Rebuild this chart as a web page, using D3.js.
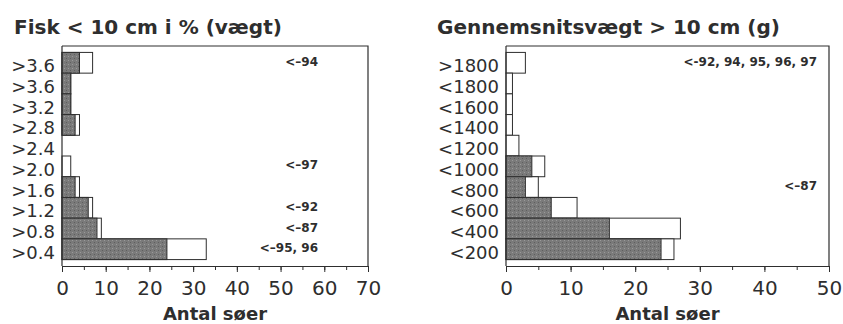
<!DOCTYPE html>
<html>
<head>
<meta charset="utf-8">
<script src="https://cdn.jsdelivr.net/npm/d3@7"></script>
<style>
  body { margin: 0; background: #fff; }
  svg { display: block; font-family: "DejaVu Sans", sans-serif; }
</style>
</head>
<body>
<svg id="chart" width="843" height="324"></svg>
<script>
// left panel: share of fish < 10 cm (weight %)
const leftCats = [">3.6", ">3.6", ">3.2", ">2.8", ">2.4", ">2.0", ">1.6", ">1.2", ">0.8", ">0.4"];
const leftDark = [4, 2, 2, 3, 0, 0, 3, 6, 8, 24];
const leftTotal = [7, 2, 2, 4, 0, 2, 4, 7, 9, 33];
const leftNoteRows = [0, 5, 7, 8, 9];
const leftNotes = ["<–94", "<–97", "<–92", "<–87", "<–95, 96"];
const leftTicks = [0, 10, 20, 30, 40, 50, 60, 70];

// right panel: mean weight of fish > 10 cm (g)
const rightCats = [">1800", "<1800", "<1600", "<1400", "<1200", "<1000", "<800", "<600", "<400", "<200"];
const rightDark = [0, 0, 0, 0, 0, 4, 3, 7, 16, 24];
const rightTotal = [3, 1, 1, 1, 2, 6, 5, 11, 27, 26];
const rightNoteRows = [0, 6];
const rightNotes = ["<-92, 94, 95, 96, 97", "<–87"];
const rightTicks = [0, 10, 20, 30, 40, 50];

const svg = d3.select('#chart');
const ink = '#2e2e2e';

function drawPanel(p) {
  const x = d3.scaleLinear().domain([0, p.ticks[p.ticks.length - 1]]).range([p.left, p.right]);
  const y = d3.scaleBand().domain(d3.range(p.cats.length)).range([p.top, p.bottom])
    .paddingInner(0).paddingOuter(0.31);

  const g = svg.append('g');

  // title
  g.append('text')
    .attr('x', p.titleX).attr('y', 34)
    .attr('font-size', 20).attr('font-weight', 'bold').attr('fill', ink)
    .text(p.title);

  // white part first (full total), then the shaded part on top
  g.selectAll('rect.total')
    .data(p.total)
    .join('rect')
    .attr('class', 'total')
    .attr('x', x(0))
    .attr('y', (_, i) => y(i))
    .attr('width', d => x(d) - x(0))
    .attr('height', y.bandwidth())
    .attr('fill', '#fff')
    .attr('stroke', ink)
    .attr('stroke-width', 1)
    .style('display', d => d > 0 ? null : 'none');

  g.selectAll('rect.dark')
    .data(p.dark)
    .join('rect')
    .attr('class', 'dark')
    .attr('x', x(0))
    .attr('y', (_, i) => y(i))
    .attr('width', d => x(d) - x(0))
    .attr('height', y.bandwidth())
    .attr('fill', 'url(#grain)')
    .attr('stroke', ink)
    .attr('stroke-width', 1)
    .style('display', d => d > 0 ? null : 'none');

  // frame (top + right)
  g.append('path')
    .attr('d', `M${p.left},${p.top}H${p.right}V${p.bottom}`)
    .attr('fill', 'none').attr('stroke', ink).attr('stroke-width', 1.2);

  // left axis line, labels
  g.append('line')
    .attr('x1', p.left).attr('x2', p.left).attr('y1', p.top).attr('y2', p.bottom)
    .attr('stroke', ink).attr('stroke-width', 1.2);

  g.selectAll('text.cat')
    .data(p.cats)
    .join('text')
    .attr('class', 'cat')
    .attr('x', p.left - 7)
    .attr('y', (_, i) => y(i) + y.bandwidth() / 2 + 3)
    .attr('dominant-baseline', 'central')
    .attr('text-anchor', 'end')
    .attr('font-size', 18).attr('fill', ink)
    .text(d => d);

  // bottom axis: minor ticks, then major ticks with labels
  const minor = d3.range(0, x.domain()[1] + 1, 5);
  g.append('g')
    .attr('transform', `translate(0,${p.bottom})`)
    .call(d3.axisBottom(x).tickValues(minor).tickSize(4).tickFormat(''))
    .call(a => a.select('.domain').remove())
    .selectAll('line').attr('stroke', ink);

  const ax = g.append('g')
    .attr('transform', `translate(0,${p.bottom})`)
    .call(d3.axisBottom(x).tickValues(p.ticks).tickSize(6).tickSizeOuter(0).tickPadding(9));
  ax.select('.domain').attr('stroke', ink).attr('stroke-width', 1.2);
  ax.selectAll('line').attr('stroke', ink);
  ax.selectAll('text')
    .attr('font-family', '"DejaVu Sans", sans-serif')
    .attr('font-size', 20).attr('fill', ink);

  g.append('text')
    .attr('x', (p.left + p.right) / 2).attr('y', 320)
    .attr('text-anchor', 'middle')
    .attr('font-size', 18).attr('font-weight', 'bold').attr('fill', ink)
    .text('Antal søer');

  // year notes on the right side of the plot
  g.selectAll('text.note')
    .data(p.notes)
    .join('text')
    .attr('class', 'note')
    .attr('x', p.noteX)
    .attr('y', (_, i) => y(p.noteRows[i]) + y.bandwidth() / 2 - 1)
    .attr('dominant-baseline', 'central')
    .attr('text-anchor', 'end')
    .attr('font-size', 12).attr('font-weight', 'bold').attr('fill', ink)
    .text(d => d);
}

// grainy grey fill for the shaded bars
const defs = svg.append('defs');
const pat = defs.append('pattern')
  .attr('id', 'grain').attr('width', 4).attr('height', 4)
  .attr('patternUnits', 'userSpaceOnUse');
pat.append('rect').attr('width', 4).attr('height', 4).attr('fill', '#7a7a7a');
pat.append('rect').attr('x', 0).attr('y', 0).attr('width', 1).attr('height', 1).attr('fill', '#9a9a9a');
pat.append('rect').attr('x', 2).attr('y', 2).attr('width', 1).attr('height', 1).attr('fill', '#5e5e5e');

drawPanel({
  title: 'Fisk < 10 cm i % (vægt)', titleX: 14,
  cats: leftCats, dark: leftDark, total: leftTotal,
  notes: leftNotes, noteRows: leftNoteRows, noteX: 318,
  ticks: leftTicks, left: 62, right: 368, top: 46, bottom: 266
});

drawPanel({
  title: 'Gennemsnitsvægt > 10 cm (g)', titleX: 437,
  cats: rightCats, dark: rightDark, total: rightTotal,
  notes: rightNotes, noteRows: rightNoteRows, noteX: 817,
  ticks: rightTicks, left: 506, right: 829, top: 46, bottom: 266
});
</script>
</body>
</html>
